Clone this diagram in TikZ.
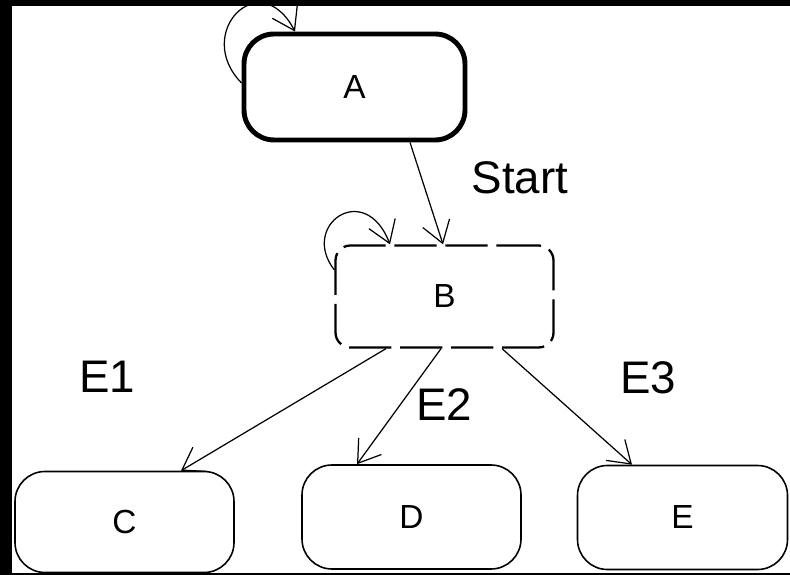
\documentclass[tikz,border=0pt]{standalone}
\usepackage{fontspec}
\setmainfont{Liberation Sans}
\usetikzlibrary{arrows.meta,positioning}

\begin{document}
\begin{tikzpicture}[
    >={Straight Barb[length=12pt,width=16pt]},
    state/.style={draw, rounded corners=0.6cm, minimum width=4.38cm,
        minimum height=2.06cm, inner sep=0pt, line width=0.9pt,
        font=\fontsize{19}{22}\selectfont},
    lbl/.style={font=\fontsize{26}{30}\selectfont}
]
    \useasboundingbox (0,0) rectangle (15.8,11.5);
    \fill[black] (0,0) rectangle (15.8,11.5);
    \fill[white] (0.24,0.04) rectangle (15.8,11.38);

    \node[state, line width=2.8pt, minimum width=4.42cm, minimum height=2.12cm] (a) at (7.09, 9.76) {A};
    \node[state, rounded corners=0.3cm, line width=1.3pt, dash pattern=on 24pt off 5pt,
        minimum width=4.36cm, minimum height=2.04cm] (b) at (8.89, 5.57) {B};
    \node[state, minimum height=2.02cm] (c) at (2.49, 1.06) {C};
    \node[state, minimum height=2.08cm] (d) at (8.23, 1.16) {D};
    \node[state, minimum width=4.2cm, minimum height=2.08cm] (e) at (13.65, 1.15) {E};

    \node[lbl] (start) at (10.4, 7.94) {Start};
    \node[lbl] (e1) at (2.14, 3.96) {E1};
    \node[lbl] (e2) at (8.88, 3.4) {E2};
    \node[lbl] (e3) at (12.96, 3.94) {E3};

    \draw[line width=0.7pt]
    ([xshift=1.11cm]a.south) edge[->] ([xshift=-0.03cm]b.north)
    ([xshift=-1.17cm]b.south) edge[->] ([xshift=1.13cm]c.north)
    ([xshift=-0.07cm]b.south) edge[->] ([xshift=-1.09cm]d.north)
    ([xshift=1.15cm]b.south) edge[->] ([xshift=-1.01cm]e.north);

    \draw[line width=0.7pt, ->] ([yshift=0.08cm]a.west)
        .. controls +(-0.98,1.0) and +(-0.7,1.35) .. ([xshift=-1.19cm]a.north);
    \draw[line width=0.7pt, ->] ([yshift=0.53cm]b.west)
        .. controls +(-0.7,0.9) and +(-0.5,1.3) .. ([xshift=-1.09cm]b.north);
\end{tikzpicture}
\end{document}
